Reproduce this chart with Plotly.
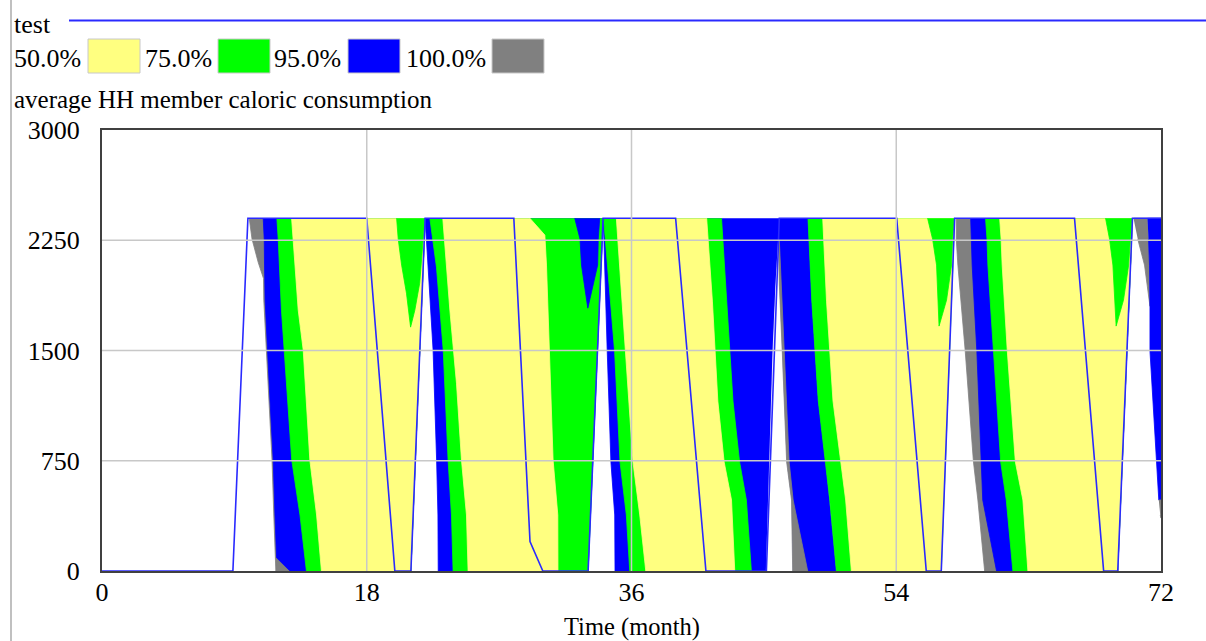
import plotly.graph_objects as go

FONT = "Liberation Serif, Times New Roman, serif"

# ---------------- data (month, kcal) ----------------
month_ticks = [0, 18, 36, 54, 72]
kcal_ticks = [0, 750, 1500, 2250, 3000]
legend_labels = ["50.0%", "75.0%", "95.0%", "100.0%"]

# base run "test"
test_t = [0, 8.9, 9.92, 18.0, 19.91, 21.0, 21.97, 28.0, 29.1, 29.97, 33.05, 34.07,
          39.0, 41.06, 45.17, 46.05, 54.03, 56.04, 57.06, 57.97, 66.12, 68.1, 69.06,
          70.06, 72]
test_v = [0, 0, 2400, 2400, 0, 0, 2400, 2400, 200, 0, 0, 2400,
          2400, 0, 0, 2400, 2400, 0, 0, 2400, 2400, 0, 0,
          2400, 2400]

# confidence-band boundary curves, each listed top -> bottom (month, kcal)
# cycle 1
c1_gray_lo = [(10.01, 2400), (10.2, 2258), (10.62, 2100), (10.98, 1990), (11.0, 1843),
              (11.33, 1163), (11.56, 755), (11.68, 381), (11.8, 90), (11.82, 0)]
c1_blue_lo = [(10.96, 2400), (11.03, 2258), (11.05, 2081), (11.09, 1843), (11.42, 1163),
              (11.64, 755), (11.76, 381), (11.87, 90), (12.78, 0)]
c1_green_lo = [(11.89, 2400), (11.98, 2258), (12.2, 1775), (12.9, 755), (13.46, 381), (13.9, 0)]
c1_yellow_lo = [(12.89, 2400), (13.0, 2258), (13.34, 1775), (13.68, 1503), (14.13, 755),
                (14.59, 381), (14.81, 122), (14.92, 0)]
ramp2 = [(21.97, 2400), (21.0, 0)]
c1_green_top = [(20.03, 2400), (20.14, 2258), (20.37, 2081), (20.7, 1890), (20.98, 1659),
                (21.27, 1775), (21.6, 1958), (21.7, 2081), (21.83, 2258), (21.95, 2400)]
# cycle 2
c2_blue_lo = [(21.97, 2400), (22.17, 2067), (22.51, 1503), (22.75, 755), (22.84, 381), (22.86, 0)]
c2_green_lo = [(22.29, 2400), (22.74, 2067), (23.2, 1503), (23.53, 755), (23.76, 381), (23.87, 0)]
c2_yellow_lo = [(23.17, 2400), (23.65, 1775), (24.1, 1278), (24.44, 755), (24.78, 381), (24.89, 0)]
c2_yellow_hi = [(29.09, 2400), (30.11, 2285), (30.22, 2081), (30.44, 1503), (30.67, 755),
                (30.99, 381), (31.0, 0)]
ramp3 = [(34.07, 2400), (33.05, 0)]
c2_blue_top = [(32.14, 2400), (32.5, 2258), (32.6, 2081), (33.03, 1788), (33.7, 2081),
               (33.74, 2258), (33.84, 2400)]
# cycle 3
c3_blue_lo = [(34.07, 2400), (34.12, 2265), (34.35, 1496), (34.6, 741), (34.86, 381), (34.88, 0)]
c3_green_lo = [(34.1, 2400), (34.85, 1496), (35.22, 741), (35.65, 381), (35.88, 0)]
c3_yellow_lo = [(34.97, 2400), (35.6, 1496), (36.1, 741), (36.56, 381), (36.97, 0)]
c3_yellow_hi = [(41.11, 2400), (41.5, 1836), (41.87, 1156), (42.3, 741), (42.8, 483), (43.02, 0)]
c3_green_hi = [(42.12, 2400), (42.5, 1836), (42.9, 1156), (43.35, 741), (43.81, 483), (44.15, 0)]
# cycle 4
c4_blue_hi = [(48.0, 2400), (48.26, 1836), (48.7, 1156), (49.2, 741), (49.48, 483), (49.93, 0)]
c4_white_l = [(46.0, 2250), (45.82, 1952), (45.62, 1496), (45.37, 741), (45.28, 483), (45.17, 0)]
c4_white_r = [(46.0, 2250), (46.05, 1952), (46.25, 1496), (46.55, 741), (46.88, 483), (46.96, 0)]
c4_gray_r = [(46.05, 2250), (46.18, 1952), (46.4, 1496), (46.72, 741), (46.99, 483), (47.98, 0)]
c4_yellow_lo = [(49.0, 2400), (49.26, 1836), (49.7, 1156), (50.2, 741), (50.56, 483), (50.95, 0)]
ramp5 = [(57.97, 2400), (57.06, 0)]
c4_green_top = [(56.13, 2400), (56.47, 2258), (56.74, 2081), (56.91, 1666), (57.42, 1843),
                (57.76, 2081), (57.83, 2258), (57.97, 2400)]
# cycle 5
c5_gray_lo = [(58.08, 2400), (58.08, 2258), (58.19, 2081), (58.69, 1496), (59.25, 741),
              (59.55, 483), (60.01, 0)]
c5_blue_lo = [(59.06, 2400), (59.1, 2258), (59.16, 2081), (59.48, 1496), (59.75, 741),
              (59.88, 483), (60.82, 0)]
c5_green_lo = [(60.07, 2400), (60.17, 2258), (60.23, 2081), (60.6, 1496), (61.1, 741),
               (61.48, 483), (61.93, 0)]
c5_yellow_lo = [(61.03, 2400), (61.13, 2258), (61.2, 2081), (61.55, 1496), (62.1, 741),
                (62.61, 483), (62.95, 0)]
ramp6 = [(70.06, 2400), (69.06, 0)]
c5_green_top = [(68.23, 2400), (68.5, 2258), (68.73, 2081), (68.95, 1666), (69.45, 1843),
                (69.8, 2081), (69.92, 2258), (70.05, 2400)]
# cycle 6 (cut by the end of the run)
c6_gray = [(70.13, 2400), (71.08, 2400), (71.15, 2258), (71.22, 2081), (71.25, 1800),
           (70.88, 2081), (70.42, 2258)]
c6_blue = [(71.08, 2400), (72, 2400), (72, 483), (71.85, 483), (71.59, 925), (71.25, 1496),
           (71.25, 1800), (71.22, 2081), (71.15, 2258)]
c6_gray_tail = [(71.85, 483), (72, 483), (72, 360), (71.95, 380)]

# ---------------- styles ----------------
YEL, GRN, BLU, GRY, WHT = "#FFFF80", "#00FF00", "#0000FF", "#808080", "#FFFFFF"
band_colors = [YEL, GRN, BLU, GRY]


def between(left, right):
    pts = list(left) + list(reversed(right))
    return [p[0] for p in pts], [p[1] for p in pts]


def poly(pts):
    return [p[0] for p in pts], [p[1] for p in pts]


layers = [
    (GRY, between(c1_gray_lo, ramp2)),
    (BLU, between(c1_blue_lo, ramp2)),
    (GRN, between(c1_green_lo, ramp2)),
    (YEL, between(c1_yellow_lo, ramp2)),
    (GRN, poly(c1_green_top)),
    (BLU, between(c2_blue_lo, ramp3)),
    (GRN, between(c2_green_lo, ramp3)),
    (YEL, between(c2_yellow_lo, c2_yellow_hi)),
    (BLU, poly(c2_blue_top)),
    (BLU, between(c3_blue_lo, c4_blue_hi)),
    (GRN, between(c3_green_lo, c3_green_hi)),
    (YEL, between(c3_yellow_lo, c3_yellow_hi)),
    (WHT, between(c4_white_l, c4_white_r)),
    (GRY, between(c4_white_r, c4_gray_r)),
    (GRN, between(c4_blue_hi, ramp5)),
    (YEL, between(c4_yellow_lo, ramp5)),
    (GRN, poly(c4_green_top)),
    (GRY, between(c5_gray_lo, ramp6)),
    (BLU, between(c5_blue_lo, ramp6)),
    (GRN, between(c5_green_lo, ramp6)),
    (YEL, between(c5_yellow_lo, ramp6)),
    (GRN, poly(c5_green_top)),
    (GRY, poly(c6_gray)),
    (BLU, poly(c6_blue)),
    (GRY, poly(c6_gray_tail)),
]

fig = go.Figure()
for color, (xs, ys) in layers:
    fig.add_trace(go.Scatter(x=xs, y=ys, fill="toself", fillcolor=color, mode="lines",
                             line=dict(color=color, width=0.8), hoverinfo="skip",
                             showlegend=False))

fig.add_trace(go.Scatter(x=test_t, y=test_v, mode="lines", name="test",
                         line=dict(color="#2A2AFF", width=1.6), showlegend=False))

# ---------------- layout ----------------
L, R, T, B = 102, 1161, 130, 571


def px(xp):
    return (xp - L) / (R - L)


def py(yp):
    return (B - yp) / (B - T)


shapes = []
grid = dict(color="#C8C8C8", width=1.5)
for v in kcal_ticks[1:-1]:
    shapes.append(dict(type="line", xref="paper", yref="y", x0=0, x1=1, y0=v, y1=v,
                       line=grid, layer="above"))
for m in month_ticks[1:-1]:
    shapes.append(dict(type="line", xref="x", yref="paper", x0=m, x1=m, y0=0, y1=1,
                       line=grid, layer="above"))
# window border at left
shapes.append(dict(type="line", xref="paper", yref="paper", x0=px(11), x1=px(11),
                   y0=py(0), y1=py(641), line=dict(color="#C0C0C0", width=2)))
# base-run legend line
shapes.append(dict(type="line", xref="paper", yref="paper", x0=px(69), x1=px(1206),
                   y0=py(20.5), y1=py(20.5), line=dict(color="#2A2AFF", width=2)))

annotations = [dict(text="test", xref="paper", yref="paper", x=px(12), y=py(24),
                    xanchor="left", yanchor="middle", showarrow=False,
                    font=dict(family=FONT, size=26, color="black"))]
label_x = [12, 143, 272, 404]
swatch_x = [(88, 140), (218, 270), (348, 400), (492, 544)]
for lab, lx, (s0, s1), col in zip(legend_labels, label_x, swatch_x, band_colors):
    annotations.append(dict(text=lab, xref="paper", yref="paper", x=px(lx), y=py(58),
                            xanchor="left", yanchor="middle", showarrow=False,
                            font=dict(family=FONT, size=26, color="black")))
    shapes.append(dict(type="rect", xref="paper", yref="paper", x0=px(s0), x1=px(s1),
                       y0=py(73), y1=py(39), fillcolor=col,
                       line=dict(color="#C8C8C8", width=1)))
annotations.append(dict(text="average HH member caloric consumption", xref="paper",
                        yref="paper", x=px(12), y=py(99), xanchor="left",
                        yanchor="middle", showarrow=False,
                        font=dict(family=FONT, size=25, color="black")))
annotations.append(dict(text="Time (month)", xref="x", yref="paper", x=36, y=py(627),
                        xanchor="center", yanchor="middle", showarrow=False,
                        font=dict(family=FONT, size=24.5, color="black")))

axis_common = dict(showgrid=False, zeroline=False, showline=True, mirror=True,
                   linecolor="#404040", linewidth=2, ticks="",
                   tickfont=dict(family=FONT, size=26, color="black"))

fig.update_layout(
    width=1206, height=641,
    margin=dict(l=L, r=1206 - R, t=T, b=641 - B, pad=0),
    paper_bgcolor="white", plot_bgcolor="white",
    xaxis=dict(range=[0, 72], tickvals=month_ticks, ticktext=[str(m) for m in month_ticks],
               ticklabelstandoff=-3, **axis_common),
    yaxis=dict(range=[0, 3000], tickvals=kcal_ticks, ticktext=[str(k) for k in kcal_ticks],
               ticklabelstandoff=15, **axis_common),
    shapes=shapes, annotations=annotations,
    font=dict(family=FONT, size=26, color="black"),
)

fig.write_html("out.html")
